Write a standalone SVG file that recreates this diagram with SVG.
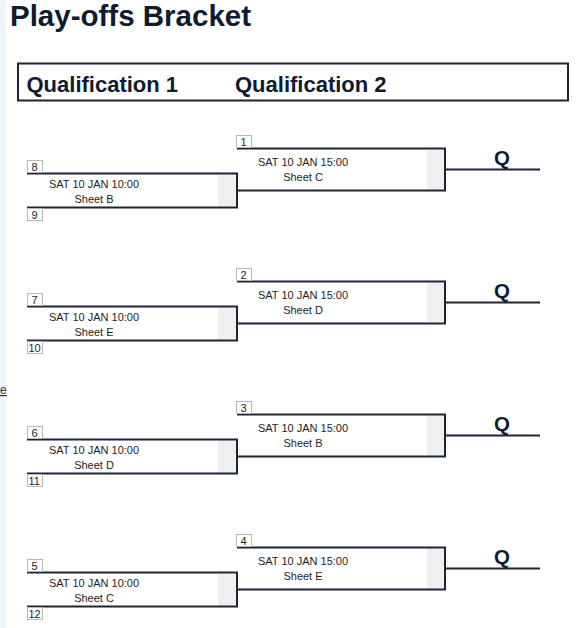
<svg xmlns="http://www.w3.org/2000/svg" width="579" height="628" viewBox="0 0 579 628">
<style>
.bg{fill:#ffffff}
.strip{fill:#eef6fc}
.title{font-family:"Liberation Sans",Arial,sans-serif;font-weight:bold;font-size:29.5px;fill:#0f1b31}
.hdr{font-family:"Liberation Sans",Arial,sans-serif;font-weight:bold;font-size:22px;fill:#0f1b31}
.hbox{fill:#ffffff;stroke:#1d2436;stroke-width:2}
.ln{fill:none;stroke:#1d2436;stroke-width:2}
.grey{fill:#efefef}
.seed{fill:#ffffff;stroke:#b8b8b8;stroke-width:1}
.sn{font-family:"Liberation Sans",Arial,sans-serif;font-size:11px;fill:#1e1e1e}
.mt{font-family:"Liberation Sans",Arial,sans-serif;font-size:11px;fill:#1e1e1e;text-anchor:middle}
.q{font-family:"Liberation Sans",Arial,sans-serif;font-weight:bold;font-size:20.5px;fill:#0f1b31;text-anchor:middle}
.link{font-family:"Liberation Sans",Arial,sans-serif;font-size:12px;fill:#333333;text-decoration:underline}
</style>
<rect class="bg" x="0" y="0" width="579" height="628"/>
<rect class="strip" x="0" y="0" width="6" height="628"/>
<text class="link" x="0" y="394">e</text>
<text class="title" x="10" y="26">Play-offs Bracket</text>
<g id="header">
<rect class="hbox" x="18" y="63.5" width="550" height="37"/>
<text class="hdr" x="26.5" y="91.5">Qualification 1</text>
<text class="hdr" x="235" y="91.5">Qualification 2</text>
</g>

<!-- Bracket 1 -->
<g id="q1-m1">
<rect class="grey" x="218" y="174.5" width="18" height="32"/>
<path class="ln" d="M27 173.5H237V207.5H27"/>
<text class="mt" x="94" y="187.5">SAT 10 JAN 10:00</text>
<text class="mt" x="94" y="202.5">Sheet B</text>
</g>
<g id="seed-8"><rect class="seed" x="27.5" y="160.5" width="15" height="12"/><text class="sn" x="31.5" y="170.5">8</text></g>
<g id="seed-9"><rect class="seed" x="27.5" y="208.5" width="15" height="12"/><text class="sn" x="31.5" y="218.5">9</text></g>
<g id="q2-m1">
<rect class="grey" x="427" y="149.5" width="17" height="40"/>
<path class="ln" d="M237 148.5H445V190.5H237"/>
<text class="mt" x="303" y="165.5">SAT 10 JAN 15:00</text>
<text class="mt" x="303" y="180.5">Sheet C</text>
</g>
<g id="seed-1"><rect class="seed" x="236.5" y="135.5" width="15" height="12"/><text class="sn" x="240.5" y="145.5">1</text></g>
<g id="q-1"><text class="q" x="502" y="165">Q</text></g>

<!-- Bracket 2 -->
<g id="q1-m2">
<rect class="grey" x="218" y="307.5" width="18" height="32"/>
<path class="ln" d="M27 306.5H237V340.5H27"/>
<text class="mt" x="94" y="320.5">SAT 10 JAN 10:00</text>
<text class="mt" x="94" y="335.5">Sheet E</text>
</g>
<g id="seed-7"><rect class="seed" x="27.5" y="293.5" width="15" height="12"/><text class="sn" x="31.5" y="303.5">7</text></g>
<g id="seed-10"><rect class="seed" x="27.5" y="341.5" width="15" height="12"/><text class="sn" x="28.5" y="351.5">10</text></g>
<g id="q2-m2">
<rect class="grey" x="427" y="282.5" width="17" height="40"/>
<path class="ln" d="M237 281.5H445V323.5H237"/>
<text class="mt" x="303" y="298.5">SAT 10 JAN 15:00</text>
<text class="mt" x="303" y="313.5">Sheet D</text>
</g>
<g id="seed-2"><rect class="seed" x="236.5" y="268.5" width="15" height="12"/><text class="sn" x="240.5" y="278.5">2</text></g>
<g id="q-2"><text class="q" x="502" y="298">Q</text></g>

<!-- Bracket 3 -->
<g id="q1-m3">
<rect class="grey" x="218" y="440.5" width="18" height="32"/>
<path class="ln" d="M27 439.5H237V473.5H27"/>
<text class="mt" x="94" y="453.5">SAT 10 JAN 10:00</text>
<text class="mt" x="94" y="468.5">Sheet D</text>
</g>
<g id="seed-6"><rect class="seed" x="27.5" y="426.5" width="15" height="12"/><text class="sn" x="31.5" y="436.5">6</text></g>
<g id="seed-11"><rect class="seed" x="27.5" y="474.5" width="15" height="12"/><text class="sn" x="28.5" y="484.5">11</text></g>
<g id="q2-m3">
<rect class="grey" x="427" y="415.5" width="17" height="40"/>
<path class="ln" d="M237 414.5H445V456.5H237"/>
<text class="mt" x="303" y="431.5">SAT 10 JAN 15:00</text>
<text class="mt" x="303" y="446.5">Sheet B</text>
</g>
<g id="seed-3"><rect class="seed" x="236.5" y="401.5" width="15" height="12"/><text class="sn" x="240.5" y="411.5">3</text></g>
<g id="q-3"><text class="q" x="502" y="431">Q</text></g>

<!-- Bracket 4 -->
<g id="q1-m4">
<rect class="grey" x="218" y="573.5" width="18" height="32"/>
<path class="ln" d="M27 572.5H237V606.5H27"/>
<text class="mt" x="94" y="586.5">SAT 10 JAN 10:00</text>
<text class="mt" x="94" y="601.5">Sheet C</text>
</g>
<g id="seed-5"><rect class="seed" x="27.5" y="559.5" width="15" height="12"/><text class="sn" x="31.5" y="569.5">5</text></g>
<g id="seed-12"><rect class="seed" x="27.5" y="607.5" width="15" height="12"/><text class="sn" x="28.5" y="617.5">12</text></g>
<g id="q2-m4">
<rect class="grey" x="427" y="548.5" width="17" height="40"/>
<path class="ln" d="M237 547.5H445V589.5H237"/>
<text class="mt" x="303" y="564.5">SAT 10 JAN 15:00</text>
<text class="mt" x="303" y="579.5">Sheet E</text>
</g>
<g id="seed-4"><rect class="seed" x="236.5" y="534.5" width="15" height="12"/><text class="sn" x="240.5" y="544.5">4</text></g>
<g id="q-4"><text class="q" x="502" y="564">Q</text></g>

<g id="connectors">
<path class="ln" d="M445 169.5H540"/>
<path class="ln" d="M445 302.5H540"/>
<path class="ln" d="M445 435.5H540"/>
<path class="ln" d="M445 568.5H540"/>
</g>
</svg>
